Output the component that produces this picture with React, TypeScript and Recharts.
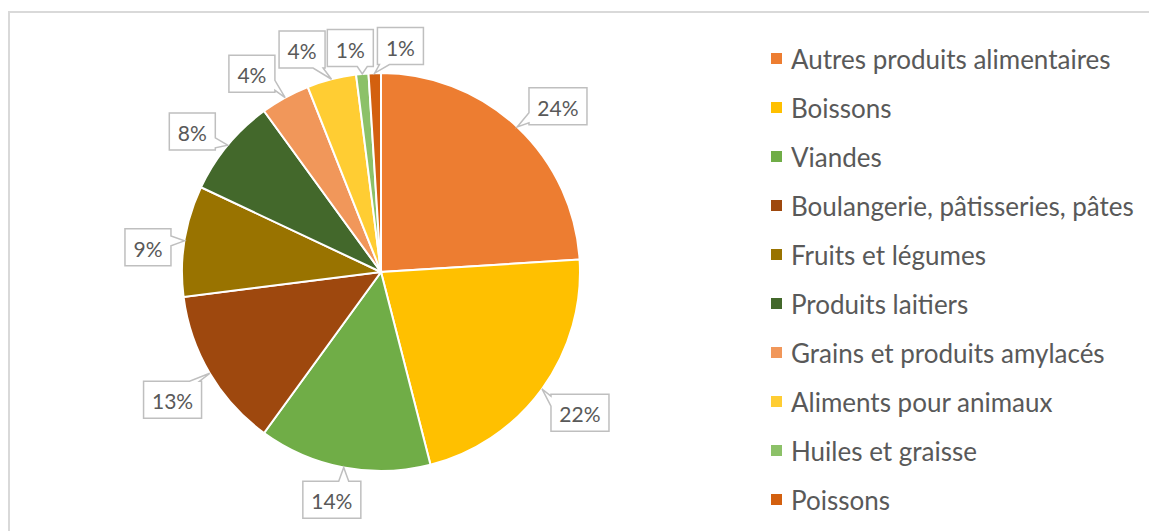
import React from "react";
import { PieChart, Pie, Cell, Legend } from "recharts";

const categories = [
  "Autres produits alimentaires",
  "Boissons",
  "Viandes",
  "Boulangerie, pâtisseries, pâtes",
  "Fruits et légumes",
  "Produits laitiers",
  "Grains et produits amylacés",
  "Aliments pour animaux",
  "Huiles et graisse",
  "Poissons",
];
const shares = [24, 22, 14, 13, 9, 8, 4, 4, 1, 1];
const colors = [
  "#ED7D31",
  "#FFC000",
  "#70AD47",
  "#9E480E",
  "#997300",
  "#43682B",
  "#F1975A",
  "#FFCD33",
  "#8CC168",
  "#D3600F",
];

// manual shifts so the callouts don't collide (like Excel's best fit)
const labelNudge = [
  [12, 10], [4, -1], [-4, -9], [-1, 5], [5, 13],
  [-3, 13], [-13, 13], [-19, 11], [-8, 16], [27, 15],
];

const data = categories.map((name, i) => ({ name, value: shares[i] }));

const FONT = "Lato, 'Open Sans', sans-serif";
const TEXT = "#595959";
const RADIAN = Math.PI / 180;

function Callout(props: any) {
  const { cx, cy, midAngle, outerRadius, value, index } = props;
  const cos = Math.cos(-midAngle * RADIAN);
  const sin = Math.sin(-midAngle * RADIAN);
  const [nx, ny] = labelNudge[index] || [0, 0];
  const bx = cx + (outerRadius + 42) * cos + nx;
  const by = cy + (outerRadius + 42) * sin + ny;
  const tx = cx + outerRadius * cos;
  const ty = cy + outerRadius * sin;
  const label = `${value}%`;
  const w = label.length === 2 ? 46 : 58;
  const h = 37;
  const x0 = bx - w / 2, x1 = bx + w / 2, y0 = by - h / 2, y1 = by + h / 2;
  const dx = tx - bx, dy = ty - by;
  const horiz = Math.abs(dx) * h > Math.abs(dy) * w;
  const clamp = (v: number, a: number, b: number) => Math.max(a, Math.min(b, v));
  const half = 5;
  let d = "";
  if (horiz) {
    const yb = clamp(ty, y0 + half + 2, y1 - half - 2);
    if (dx > 0) {
      d = `M${x0},${y0} L${x1},${y0} L${x1},${yb - half} L${tx},${ty} L${x1},${yb + half} L${x1},${y1} L${x0},${y1} Z`;
    } else {
      d = `M${x0},${y0} L${x1},${y0} L${x1},${y1} L${x0},${y1} L${x0},${yb + half} L${tx},${ty} L${x0},${yb - half} Z`;
    }
  } else {
    const xb = clamp(tx, x0 + half + 2, x1 - half - 2);
    if (dy > 0) {
      d = `M${x0},${y0} L${x1},${y0} L${x1},${y1} L${xb + half},${y1} L${tx},${ty} L${xb - half},${y1} L${x0},${y1} Z`;
    } else {
      d = `M${x0},${y0} L${xb - half},${y0} L${tx},${ty} L${xb + half},${y0} L${x1},${y0} L${x1},${y1} L${x0},${y1} Z`;
    }
  }
  return (
    <g>
      <path d={d} fill="#fff" stroke="#BFBFBF" strokeWidth={1.5} strokeLinejoin="miter" />
      <text
        x={bx}
        y={by + 1}
        textAnchor="middle"
        dominantBaseline="central"
        fill={TEXT}
        fontSize={21}
        fontFamily={FONT}
      >
        {label}
      </text>
    </g>
  );
}

function LegendList() {
  return (
    <div style={{ fontFamily: FONT }}>
      {categories.map((c, i) => (
        <div
          key={c}
          style={{ display: "flex", alignItems: "center", height: 49 }}
        >
          <span
            style={{
              width: 11,
              height: 11,
              background: colors[i],
              marginRight: 9,
              flex: "none",
            }}
          />
          <span style={{ fontSize: 26, lineHeight: "30px", color: TEXT, whiteSpace: "nowrap" }}>{c}</span>
        </div>
      ))}
    </div>
  );
}

export default function App() {
  return (
    <div
      style={{
        position: "fixed",
        left: 0,
        top: 0,
        width: 1149,
        height: 531,
        overflow: "hidden",
        background: "#fff",
      }}
    >
      <div
        style={{
          position: "absolute",
          left: 8,
          top: 11,
          width: 1200,
          height: 600,
          border: "2px solid #D9D9D9",
        }}
      />
      <div style={{ position: "absolute", left: 0, top: 0 }}>
        <PieChart width={1149} height={531} margin={{ top: 0, right: 0, bottom: 0, left: 0 }}>
          <Pie
            data={data}
            dataKey="value"
            nameKey="name"
            cx={381}
            cy={272}
            outerRadius={199}
            startAngle={90}
            endAngle={-270}
            stroke="#fff"
            strokeWidth={2}
            label={Callout}
            labelLine={false}
            isAnimationActive={false}
          >
            {data.map((d, i) => (
              <Cell key={d.name} fill={colors[i]} />
            ))}
          </Pie>
          <Legend
            content={() => <LegendList />}
            wrapperStyle={{ position: "absolute", left: 771, top: 34, width: 378 }}
          />
        </PieChart>
      </div>
    </div>
  );
}
